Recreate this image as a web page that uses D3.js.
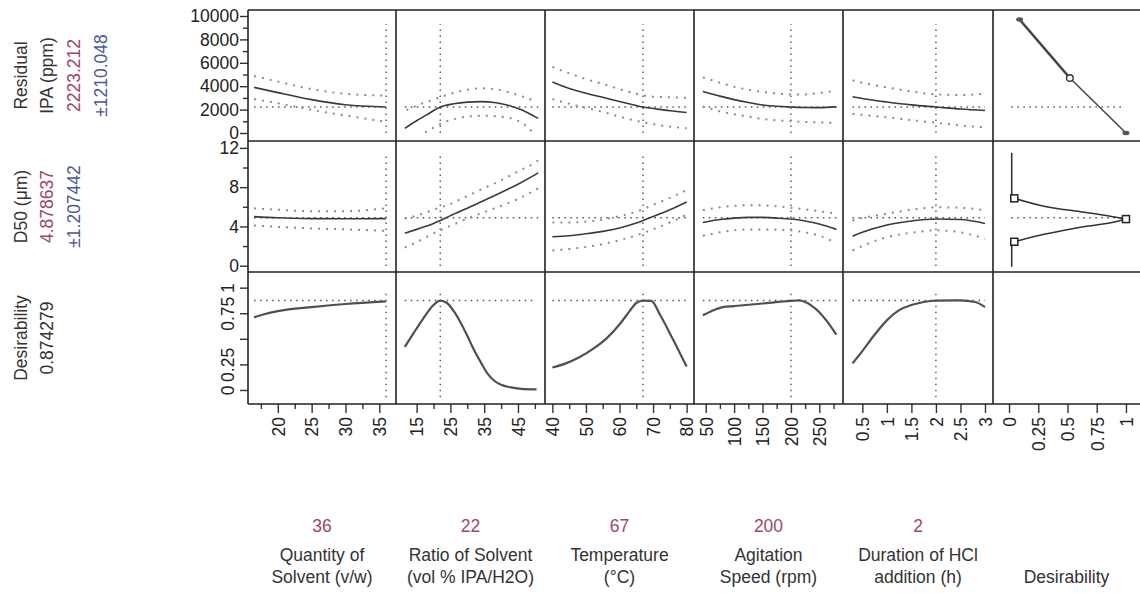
<!DOCTYPE html>
<html><head><meta charset="utf-8">
<script src="https://cdn.jsdelivr.net/npm/d3@7"></script>
<style>
body{margin:0;background:#fff}
text{font-family:"Liberation Sans",Arial,sans-serif}
</style>
</head><body>
<svg id="c" width="1140" height="593"></svg>
<script>
// ---------------- DATA ----------------
const responses = ["Residual IPA (ppm)", "D50 (μm)", "Desirability"];
const predicted = [2223.212, 4.878637, 0.874279];
const predictedText = ["2223.212", "4.878637", "0.874279"];
const ciText = ["±1210.048", "±1.207442", ""];
const factorValues = [36, 22, 67, 200, 2];
const factorNameLines = [
  ["Quantity of", "Solvent (v/w)"],
  ["Ratio of Solvent", "(vol % IPA/H2O)"],
  ["Temperature", "(°C)"],
  ["Agitation", "Speed (rpm)"],
  ["Duration of HCl", "addition (h)"],
  ["", "Desirability"]
];
const xTicksMajor = [[20,25,30,35],[15,25,35,45],[40,50,60,70,80],[50,100,150,200,250],[0.5,1,1.5,2,2.5,3],[0,0.25,0.5,0.75,1]];
const xTicksMinor = [[17.5,22.5,27.5,32.5],[20,30,40,50],[45,55,65,75],[75,125,175,225,275],[],[]];
const yTicksMajor = [[0,2000,4000,6000,8000,10000],[0,4,8,12],[0,0.25,0.5,0.75,1]];
const yTicksMinor = [[1000,3000,5000,7000,9000],[2,6,10],[]];
const desTickLabels = ["0","0.25","","0.75","1"];

// Residual IPA profiles (per factor)
const ipaMain = [
  [[16.5,3900],[20,3450],[25,2850],[30,2420],[36,2223]],
  [[11.5,400],[15,1050],[18,1550],[22,2223],[26,2500],[30,2640],[34,2680],[38,2600],[42,2380],[46,1980],[50,1400],[51,1250]],
  [[40,4350],[45,3800],[50,3400],[55,3050],[60,2700],[67,2223],[70,2100],[75,1900],[80,1750]],
  [[45,3550],[75,3150],[100,2850],[125,2600],[150,2400],[175,2280],[200,2223],[225,2180],[250,2170],[280,2230]],
  [[0.3,3100],[0.5,2950],[1,2650],[1.5,2400],[2,2223],[2.5,2050],[3,1920]]
];
const ipaUpper = [
  [[16.5,4870],[20,4400],[25,3750],[30,3350],[36,3200]],
  [[12,1950],[16,2450],[20,2850],[25,3350],[30,3700],[34,3820],[38,3750],[42,3500],[46,3150],[50.5,2680]],
  [[40,5650],[45,5100],[50,4600],[55,4200],[60,3750],[65,3350],[70,3100],[75,3050],[80,3000]],
  [[45,4750],[75,4300],[100,3950],[125,3700],[150,3500],[175,3380],[200,3300],[225,3300],[250,3420],[280,3620]],
  [[0.3,4500],[0.5,4300],[1,3900],[1.5,3550],[2,3300],[2.5,3250],[3,3350]]
];
const ipaLower = [
  [[16.5,2900],[20,2550],[25,1980],[30,1500],[36,950]],
  [[17.5,50],[20,450],[23,900],[27,1250],[31,1430],[35,1470],[39,1420],[43,1250],[46,900],[48.5,300],[49.5,0]],
  [[40,2900],[45,2500],[50,2150],[55,1800],[60,1400],[65,1050],[70,750],[75,550],[80,400]],
  [[45,2280],[75,1850],[100,1600],[125,1400],[150,1200],[175,1080],[200,1000],[225,950],[250,900],[280,870]],
  [[0.3,1650],[0.5,1550],[1,1350],[1.5,1100],[2,880],[2.5,650],[3,480]]
];
// D50 profiles
const d50Main = [
  [[16.5,5.0],[20,4.88],[25,4.8],[30,4.78],[36,4.8]],
  [[11.5,3.3],[15,3.7],[20,4.3],[22,4.6],[25,5.1],[30,5.85],[35,6.65],[40,7.45],[45,8.3],[50,9.25],[51,9.45]],
  [[40,2.95],[45,3.05],[50,3.25],[55,3.5],[60,3.85],[65,4.35],[67,4.6],[70,5.0],[75,5.7],[80,6.5]],
  [[45,4.4],[75,4.7],[100,4.85],[125,4.92],[150,4.92],[175,4.85],[200,4.75],[225,4.55],[250,4.25],[280,3.7]],
  [[0.3,3.0],[0.5,3.4],[1,4.15],[1.5,4.55],[2,4.75],[2.5,4.7],[3,4.3]]
];
const d50Upper = [
  [[16.5,5.85],[20,5.7],[25,5.55],[30,5.55],[36,5.85]],
  [[11.5,4.8],[15,5.1],[20,5.7],[25,6.3],[30,7.1],[35,7.9],[40,8.7],[45,9.6],[50,10.5],[51,10.75]],
  [[40,4.4],[45,4.4],[50,4.5],[55,4.7],[60,5.05],[65,5.5],[70,6.2],[75,6.9],[80,7.7]],
  [[45,5.65],[75,5.95],[100,6.1],[125,6.17],[150,6.15],[175,6.05],[200,5.9],[225,5.75],[250,5.55],[280,5.3]],
  [[0.3,4.6],[0.5,4.85],[1,5.3],[1.5,5.7],[2,5.95],[2.5,5.9],[3,5.65]]
];
const d50Lower = [
  [[16.5,4.1],[20,3.95],[25,3.8],[30,3.7],[36,3.55]],
  [[11.5,1.85],[15,2.4],[20,3.3],[25,4.05],[30,4.8],[35,5.45],[40,6.1],[45,6.8],[50,7.7],[51,7.9]],
  [[40,1.55],[45,1.7],[50,1.9],[55,2.2],[60,2.6],[65,3.1],[70,3.7],[75,4.4],[80,5.2]],
  [[45,3.05],[75,3.4],[100,3.6],[125,3.7],[150,3.7],[175,3.67],[200,3.6],[225,3.4],[250,3.05],[280,2.3]],
  [[0.3,1.55],[0.5,2.0],[1,2.9],[1.5,3.35],[2,3.6],[2.5,3.4],[3,2.75]]
];
// Desirability profiles
const desMain = [
  [[16.5,0.71],[18,0.74],[20,0.77],[25,0.81],[30,0.84],[36,0.865]],
  [[11.5,0.42],[14,0.55],[17,0.7],[20,0.83],[22,0.874],[24,0.85],[26,0.77],[28,0.66],[30,0.53],[32,0.39],[34,0.27],[36,0.16],[38,0.09],[40,0.05],[43,0.025],[46,0.01],[50.5,0.005]],
  [[40,0.22],[44,0.26],[48,0.32],[52,0.4],[56,0.5],[60,0.64],[63,0.77],[65,0.85],[67,0.874],[69.5,0.87],[72,0.74],[76,0.49],[80,0.23]],
  [[45,0.73],[60,0.77],[80,0.81],[100,0.82],[150,0.845],[200,0.87],[215,0.875],[225,0.86],[235,0.83],[250,0.76],[265,0.66],[280,0.54]],
  [[0.3,0.26],[0.5,0.38],[0.75,0.54],[1,0.68],[1.25,0.78],[1.5,0.83],[1.75,0.86],[2,0.874],[2.5,0.875],[2.8,0.86],[3,0.81]]
];
// Desirability functions (desirability, response)
const ipaDesir = [[0.09,9700],[0.52,4700],[1.0,0]];
const d50DesirUpper = [[0.045,6.86],[0.32,6.0],[0.61,5.5],[0.89,4.98],[1.0,4.75]];
const d50DesirLower = [[0.045,2.44],[0.3,3.2],[0.6,3.9],[0.89,4.42],[1.0,4.75]];
const d50DesirStems = [[[0.023,11.5],[0.023,7.15]],[[0.023,2.15],[0.023,-0.1]]];
const d50DesirMarkers = [[0.045,6.86],[1.0,4.75],[0.045,2.44]];
const desirRefSpan = [0.02, 0.98];
const refYRange = [[0,9300],[-0.03,11.3],[-0.07,0.98]];

// ---------------- LAYOUT ----------------
const colB = [248,396,545,694,843,993,1140];
const rowB = [10,141,272,404];
const xDomains = [[15.6,37.46],[8.9,53],[37.8,82.2],[29.4,291.7],[0.106,3.163],[-0.137,1.12]];
const yDomains = [[-684,10513],[-0.64,12.7],[-0.137,1.153]];
const FS = 17.5;
const dark = "#2a2a2a";

const svg = d3.select("#c");
const xs = xDomains.map((d,i)=>d3.scaleLinear().domain(d).range([colB[i],colB[i+1]]));
const ys = yDomains.map((d,i)=>d3.scaleLinear().domain(d).range([rowB[i+1],rowB[i]]));

const defs = svg.append("defs");
for(let r=0;r<3;r++)for(let c=0;c<6;c++){
  defs.append("clipPath").attr("id",`cp${r}${c}`).append("rect")
    .attr("x",colB[c]).attr("y",rowB[r]).attr("width",colB[c+1]-colB[c]).attr("height",rowB[r+1]-rowB[r]);
}

const profiles = [[ipaMain,ipaUpper,ipaLower],[d50Main,d50Upper,d50Lower],[desMain,null,null]];

for(let r=0;r<3;r++){
  for(let c=0;c<5;c++){
    const g = svg.append("g").attr("clip-path",`url(#cp${r}${c})`);
    const line = d3.line().x(d=>xs[c](d[0])).y(d=>ys[r](d[1])).curve(d3.curveMonotoneX);
    const main = profiles[r][0][c];
    const x0 = main[0][0], x1 = main[main.length-1][0];
    // reference lines
    g.append("line").attr("x1",xs[c](x0)).attr("x2",xs[c](x1))
      .attr("y1",ys[r](predicted[r])).attr("y2",ys[r](predicted[r]))
      .attr("stroke","#555").attr("stroke-width",1.4).attr("stroke-dasharray","1.5,4.5");
    g.append("line").attr("x1",xs[c](factorValues[c])).attr("x2",xs[c](factorValues[c]))
      .attr("y1",ys[r](refYRange[r][0])).attr("y2",ys[r](refYRange[r][1]))
      .attr("stroke","#555").attr("stroke-width",1.4).attr("stroke-dasharray","1.5,4.5");
    if(profiles[r][1]){
      [profiles[r][1][c],profiles[r][2][c]].forEach(d=>{
        g.append("path").attr("d",line(d)).attr("fill","none")
          .attr("stroke","#8c8c8c").attr("stroke-width",2).attr("stroke-dasharray","2,6");
      });
    }
    g.append("path").attr("d",line(main)).attr("fill","none")
      .attr("stroke",r===2?"#505050":"#3a3a3a").attr("stroke-width",r===2?2.2:1.6);
  }
}

// Desirability function column
{
  const c=5;
  // IPA
  const g0 = svg.append("g").attr("clip-path","url(#cp05)");
  g0.append("line").attr("x1",xs[c](desirRefSpan[0])).attr("x2",xs[c](desirRefSpan[1]))
    .attr("y1",ys[0](predicted[0])).attr("y2",ys[0](predicted[0]))
    .attr("stroke","#555").attr("stroke-width",1.4).attr("stroke-dasharray","1.5,4.5");
  const l0 = d3.line().x(d=>xs[c](d[0])).y(d=>ys[0](d[1]));
  g0.append("path").attr("d",l0(ipaDesir.slice(0,2))).attr("stroke","#444").attr("stroke-width",2.6).attr("fill","none");
  g0.append("path").attr("d",l0(ipaDesir.slice(1))).attr("stroke","#444").attr("stroke-width",1.5).attr("fill","none");
  g0.append("ellipse").attr("cx",xs[c](ipaDesir[0][0])).attr("cy",ys[0](ipaDesir[0][1])).attr("rx",3.5).attr("ry",2.2).attr("fill","#555");
  g0.append("ellipse").attr("cx",xs[c](ipaDesir[2][0])).attr("cy",ys[0](ipaDesir[2][1])).attr("rx",3.5).attr("ry",2.2).attr("fill","#555");
  g0.append("circle").attr("cx",xs[c](ipaDesir[1][0])).attr("cy",ys[0](ipaDesir[1][1])).attr("r",3.3)
    .attr("fill","#fff").attr("stroke","#333").attr("stroke-width",1.4);
  // D50
  const g1 = svg.append("g").attr("clip-path","url(#cp15)");
  g1.append("line").attr("x1",xs[c](desirRefSpan[0])).attr("x2",xs[c](desirRefSpan[1]))
    .attr("y1",ys[1](predicted[1])).attr("y2",ys[1](predicted[1]))
    .attr("stroke","#555").attr("stroke-width",1.4).attr("stroke-dasharray","1.5,4.5");
  const l1 = d3.line().x(d=>xs[c](d[0])).y(d=>ys[1](d[1]));
  const l1c = d3.line().x(d=>xs[c](d[0])).y(d=>ys[1](d[1])).curve(d3.curveMonotoneX);
  d50DesirStems.forEach(s=>g1.append("path").attr("d",l1(s)).attr("stroke","#333").attr("stroke-width",1.6).attr("fill","none"));
  [d50DesirUpper,d50DesirLower].forEach(s=>g1.append("path").attr("d",l1c(s)).attr("stroke","#333").attr("stroke-width",1.6).attr("fill","none"));
  d50DesirMarkers.forEach(m=>g1.append("rect").attr("x",xs[c](m[0])-3.5).attr("y",ys[1](m[1])-3.5)
    .attr("width",7).attr("height",7).attr("fill","#fff").attr("stroke","#222").attr("stroke-width",1.5));
}

// ---------------- AXES ----------------
function styleAxis(g){
  g.select(".domain").remove();
  g.selectAll("line").attr("stroke","#333").attr("stroke-width",1.4);
  g.selectAll("text").attr("fill","#222").style("font-size",FS+"px").style("font-family",'"Liberation Sans",Arial,sans-serif');
}
for(let c=0;c<6;c++){
  const fmt = d=>String(d);
  const ga = svg.append("g").attr("transform",`translate(0,${rowB[3]})`)
    .call(d3.axisBottom(xs[c]).tickValues(xTicksMajor[c]).tickSize(9).tickFormat(fmt));
  styleAxis(ga);
  ga.selectAll("text").attr("transform","rotate(-90)").attr("text-anchor","end")
    .attr("x",-13).attr("y",0).attr("dy","0.36em");
  if(xTicksMinor[c].length){
    const gm = svg.append("g").attr("transform",`translate(0,${rowB[3]})`)
      .call(d3.axisBottom(xs[c]).tickValues(xTicksMinor[c]).tickSize(5).tickFormat(""));
    styleAxis(gm);
  }
}
for(let r=0;r<3;r++){
  const ga = svg.append("g").attr("transform",`translate(${colB[0]},0)`)
    .call(d3.axisLeft(ys[r]).tickValues(yTicksMajor[r]).tickSize(8).tickPadding(1)
      .tickFormat(r===2?((d,i)=>desTickLabels[i]):(d=>String(d))));
  styleAxis(ga);
  if(r===2){
    ga.selectAll("text").attr("transform","rotate(-90)").attr("text-anchor","middle")
      .attr("x",0).attr("y",-14).attr("dy",0);
  }
  if(yTicksMinor[r].length){
    const gm = svg.append("g").attr("transform",`translate(${colB[0]},0)`)
      .call(d3.axisLeft(ys[r]).tickValues(yTicksMinor[r]).tickSize(5).tickFormat(""));
    styleAxis(gm);
  }
}

// ---------------- GRID BORDERS ----------------
const border = svg.append("g").attr("stroke","#222").attr("stroke-width",1.6);
rowB.forEach(y=>border.append("line").attr("x1",colB[0]).attr("x2",1140).attr("y1",y).attr("y2",y));
colB.slice(0,6).forEach(x=>border.append("line").attr("x1",x).attr("x2",x).attr("y1",rowB[0]).attr("y2",rowB[3]));

// ---------------- LEFT LABELS ----------------
const leftCols = [21,47,74,101];
const red = "#9c4862", blue = "#4a5a9a", txt = "#333";
function vtext(x,y,s,color){
  svg.append("text").attr("transform",`translate(${x},${y}) rotate(-90)`)
    .attr("text-anchor","middle").attr("dy","0.36em")
    .attr("fill",color).style("font-size",FS+"px").text(s);
}
for(let r=0;r<3;r++){
  const cy = (rowB[r]+rowB[r+1])/2;
  const nameParts = r===0 ? ["Residual","IPA (ppm)"] : [responses[r]];
  let k=0;
  nameParts.forEach(s=>vtext(leftCols[k++],cy,s,txt));
  vtext(leftCols[k++],cy,predictedText[r], r===2?txt:red);
  if(ciText[r]) vtext(leftCols[k++],cy,ciText[r],blue);
}

// ---------------- BOTTOM LABELS ----------------
for(let c=0;c<6;c++){
  const cx = (colB[c]+colB[c+1])/2;
  if(c<5) svg.append("text").attr("x",cx).attr("y",532).attr("text-anchor","middle")
    .attr("fill",red).style("font-size",FS+"px").text(String(factorValues[c]));
  factorNameLines[c].forEach((s,i)=>{
    if(!s) return;
    svg.append("text").attr("x",cx).attr("y",i===0?561:583).attr("text-anchor","middle")
      .attr("fill",txt).style("font-size",FS+"px").text(s);
  });
}
</script>
</body></html>
